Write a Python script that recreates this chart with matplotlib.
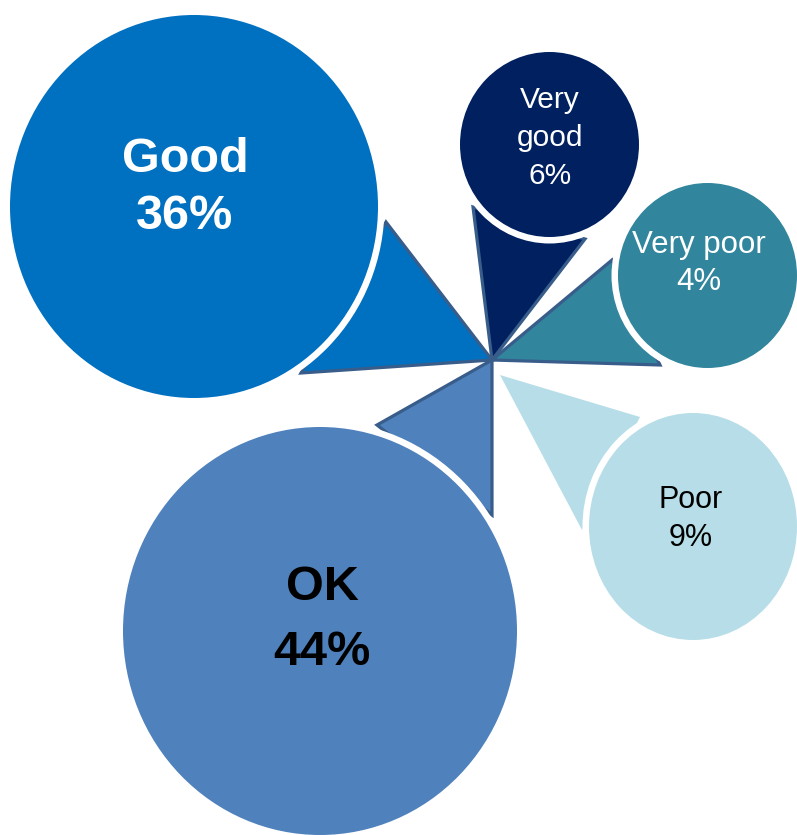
import matplotlib
matplotlib.use("Agg")
import matplotlib.pyplot as plt
from matplotlib.patches import Ellipse, Polygon

plt.rcParams['font.family'] = ['Liberation Sans', 'DejaVu Sans']

# data
categories = ['Very good', 'Good', 'OK', 'Poor', 'Very poor']
values = [6, 36, 44, 9, 4]
labels = ['Very\ngood', 'Good', 'OK', 'Poor', 'Very poor']
colors = ['#002060', '#0070C0', '#4F81BD', '#B7DEE8', '#31859C']

# layout, in pixels of the 797x835 canvas
hub = (492, 360)
circle_xy = [(549.5, 144.5), (194, 206.5), (320, 631), (693, 526.5), (707.5, 275.5)]
circle_wh = [(179, 185), (368, 383), (394, 408), (208, 227), (179, 185)]
wedge_base = [
    [(473, 207), (585, 239)],
    [(386, 222), (301, 373)],
    [(377, 425), (492, 515)],
    [(640, 417), (582, 530)],
    [(612, 260), (660, 365)],
]
wedge_apex = [hub, hub, hub, (500, 375), hub]
wedge_edge = [True, True, True, False, True]
# text: x, first baseline, line gap, size, bold, colour
text_style = [
    (550, 108, 38, 21.5, False, 'white'),
    (185, 172, 57, 35, True, 'white'),
    (322, 600, 65, 35, True, 'black'),
    (691, 508, 38, 22, False, 'black'),
    (699, 253, 37, 22.5, False, 'white'),
]

fig = plt.figure(figsize=(7.97, 8.35), dpi=100)
ax = fig.add_axes([0, 0, 1, 1])
ax.set_xlim(0, 797)
ax.set_ylim(835, 0)
ax.axis('off')

for i, cat in enumerate(categories):
    pts = [wedge_apex[i]] + wedge_base[i]
    if wedge_edge[i]:
        tri = Polygon(pts, closed=True, facecolor=colors[i], edgecolor='#385D8A',
                      linewidth=2.3, joinstyle='miter', zorder=1)
    else:
        tri = Polygon(pts, closed=True, facecolor=colors[i], edgecolor='none', zorder=1)
    ax.add_patch(tri)

for i, cat in enumerate(categories):
    (cx, cy), (w, h) = circle_xy[i], circle_wh[i]
    ax.add_patch(Ellipse((cx, cy), w + 13, h + 13, facecolor='white', edgecolor='none', zorder=2))
    ax.add_patch(Ellipse((cx, cy), w, h, facecolor=colors[i], edgecolor='none', zorder=3))

    tx, ty, gap, fs, bold, tc = text_style[i]
    lines = labels[i].split('\n') + [f'{values[i]}%']
    for j, line in enumerate(lines):
        ax.text(tx, ty + j * gap, line, ha='center', va='baseline', fontsize=fs,
                fontweight='bold' if bold else 'normal', color=tc, zorder=4)

fig.savefig('out.png', dpi=100)
